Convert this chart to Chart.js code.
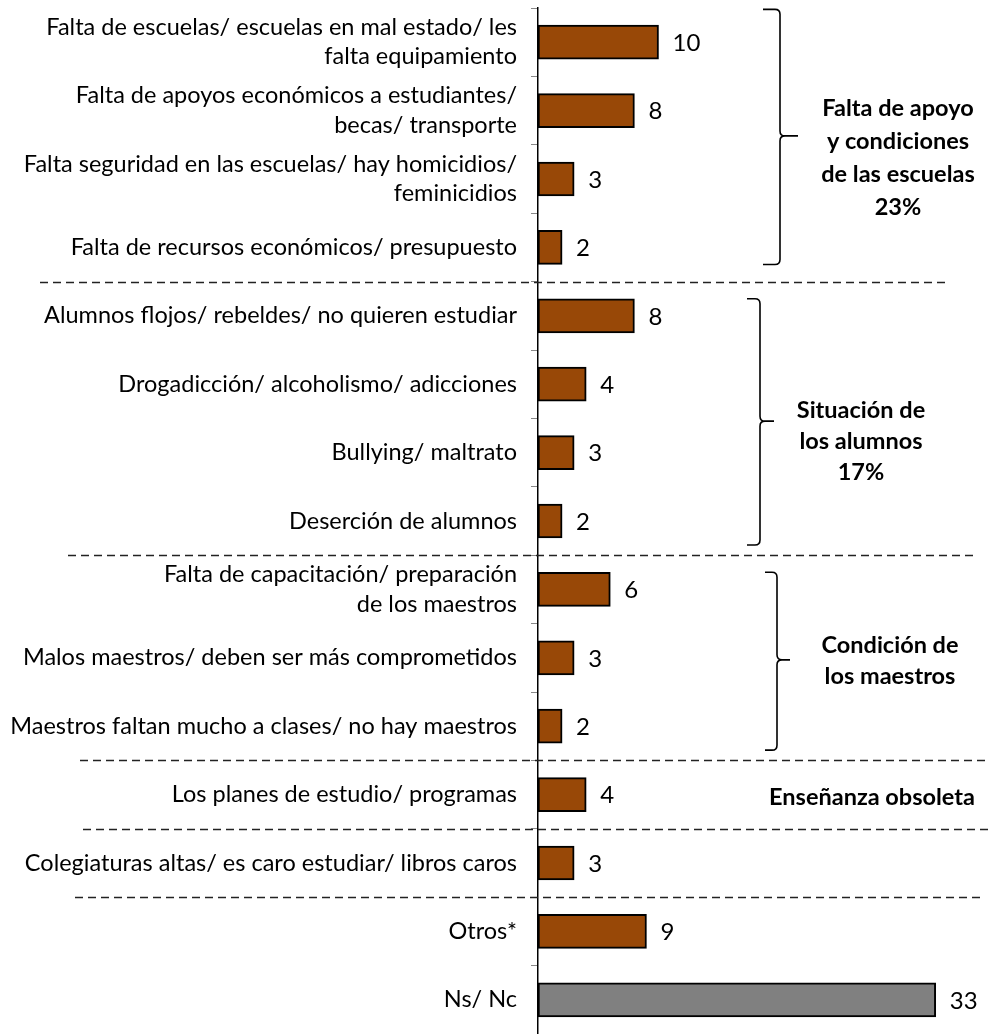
<!DOCTYPE html>
<html>
<head>
<meta charset="utf-8">
<script src="https://cdn.jsdelivr.net/npm/chart.js@4/dist/chart.umd.min.js"></script>
<style>
  body { margin: 0; background: #fff; }
  #wrap { width: 996px; height: 1034px; }
</style>
</head>
<body>
<div id="wrap"><canvas id="chart" width="996" height="1034"></canvas></div>
<script>
// categories (multi-line ones are split like in the original)
const categories = [
  ['Falta de escuelas/ escuelas en mal estado/ les', 'falta equipamiento'],
  ['Falta de apoyos económicos a estudiantes/', 'becas/ transporte'],
  ['Falta seguridad en las escuelas/ hay homicidios/', 'feminicidios'],
  'Falta de recursos económicos/ presupuesto',
  'Alumnos flojos/ rebeldes/ no quieren estudiar',
  'Drogadicción/ alcoholismo/ adicciones',
  'Bullying/ maltrato',
  'Deserción de alumnos',
  ['Falta de capacitación/ preparación', 'de los maestros'],
  'Malos maestros/ deben ser más comprometidos',
  'Maestros faltan mucho a clases/ no hay maestros',
  'Los planes de estudio/ programas',
  'Colegiaturas altas/ es caro estudiar/ libros caros',
  'Otros*',
  'Ns/ Nc'
];
const values = [10, 8, 3, 2, 8, 4, 3, 2, 6, 3, 2, 4, 3, 9, 33];

// group labels and the category index ranges they cover
const groupLabels = [
  ['Falta de apoyo', 'y condiciones', 'de las escuelas', '23%'],
  ['Situación de', 'los alumnos', '17%'],
  ['Condición de', 'los maestros'],
  ['Enseñanza obsoleta']
];
const groupRanges = [[0, 3], [4, 7], [8, 10], [11, 11]];
// dashed separators sit after these category indexes
const separatorsAfter = [3, 7, 10, 11, 12];

const BROWN = '#984807';
const GREY = '#808080';
const FONT = 'Lato, "Open Sans", sans-serif';

const annotations = {
  id: 'annotations',
  afterDatasetsDraw(chart) {
    const ctx = chart.ctx;
    const y = chart.scales.y;
    const x = chart.scales.x;

    // value labels
    ctx.save();
    ctx.fillStyle = '#000';
    ctx.font = '24px ' + FONT;
    ctx.textBaseline = 'middle';
    ctx.textAlign = 'left';
    values.forEach((v, i) => {
      ctx.fillText(String(v), x.getPixelForValue(v) + 14, y.getPixelForValue(i) + 1);
    });
    ctx.restore();

    // dashed separators
    const sepX = [[40, 945], [68, 975], [80, 987], [83, 990], [75, 982]];
    ctx.save();
    ctx.strokeStyle = '#222';
    ctx.lineWidth = 1.5;
    ctx.setLineDash([8, 5]);
    separatorsAfter.forEach((idx, k) => {
      const yy = Math.round(y.getPixelForValue(idx + 0.5)) + 0.5;
      ctx.beginPath();
      ctx.moveTo(sepX[k][0], yy);
      ctx.lineTo(sepX[k][1], yy);
      ctx.stroke();
    });
    ctx.restore();

    // braces
    const braces = [
      { x0: 763, x1: 780, tip: 798, top: -0.48, bot: 0.25, mid: 1.37 },
      { x0: 747, x1: 760, tip: 774, top: -0.25, bot: 0.35, mid: 5.54 },
      { x0: 765, x1: 777, tip: 790, top: -0.25, bot: 0.35, mid: 9.03 }
    ];
    ctx.save();
    ctx.strokeStyle = '#000';
    ctx.lineWidth = 1.6;
    braces.forEach((b, k) => {
      const r = groupRanges[k];
      const top = y.getPixelForValue(r[0] + b.top);
      const bot = y.getPixelForValue(r[1] + b.bot);
      const mid = y.getPixelForValue(b.mid);
      const c = 5;
      ctx.beginPath();
      ctx.moveTo(b.x0, top);
      ctx.lineTo(b.x1 - c, top);
      ctx.quadraticCurveTo(b.x1, top, b.x1, top + c);
      ctx.lineTo(b.x1, mid - c);
      ctx.quadraticCurveTo(b.x1, mid, b.x1 + c, mid);
      ctx.lineTo(b.tip, mid);
      ctx.moveTo(b.x1 + c, mid);
      ctx.quadraticCurveTo(b.x1, mid, b.x1, mid + c);
      ctx.lineTo(b.x1, bot - c);
      ctx.quadraticCurveTo(b.x1, bot, b.x1 - c, bot);
      ctx.lineTo(b.x0, bot);
      ctx.stroke();
    });
    ctx.restore();

    // group texts
    const textPos = [
      { cx: 898, first: 108, lh: 33 },
      { cx: 861, first: 410, lh: 31 },
      { cx: 890, first: 645, lh: 31 },
      { cx: 872, first: 797, lh: 30 }
    ];
    ctx.save();
    ctx.fillStyle = '#000';
    ctx.font = 'bold 23.5px ' + FONT;
    ctx.textAlign = 'center';
    ctx.textBaseline = 'middle';
    groupLabels.forEach((lines, k) => {
      lines.forEach((t, j) => {
        ctx.fillText(t, textPos[k].cx, textPos[k].first + j * textPos[k].lh);
      });
    });
    ctx.restore();
  }
};

new Chart(document.getElementById('chart').getContext('2d'), {
  type: 'bar',
  data: {
    labels: categories,
    datasets: [{
      data: values,
      backgroundColor: values.map((v, i) => i === values.length - 1 ? GREY : BROWN),
      borderColor: '#000',
      borderWidth: 2,
      borderSkipped: false,
      barThickness: 34
    }]
  },
  options: {
    indexAxis: 'y',
    responsive: false,
    animation: false,
    layout: { padding: { top: 8, bottom: 0, left: 0, right: 0 } },
    plugins: {
      legend: { display: false },
      tooltip: { enabled: false }
    },
    scales: {
      x: {
        display: false,
        min: 0,
        max: 38
      },
      y: {
        afterFit(scale) {
          scale.width = 538;
          scale.paddingTop = 0;
          scale.paddingBottom = 0;
        },
        border: { display: true, color: '#000', width: 1.5 },
        grid: {
          offset: true,
          drawOnChartArea: false,
          drawTicks: true,
          tickLength: 7,
          color: '#888'
        },
        ticks: {
          color: '#000',
          padding: 14,
          autoSkip: false,
          font: { family: FONT, size: 23.5, lineHeight: 1.25 }
        }
      }
    }
  },
  plugins: [annotations]
});
</script>
</body>
</html>
